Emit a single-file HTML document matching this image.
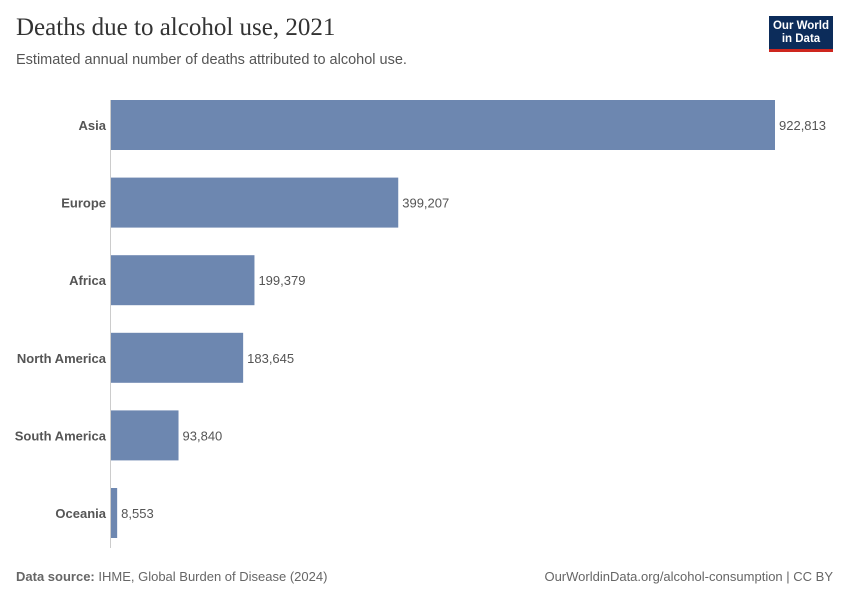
<!DOCTYPE html>
<html><head><meta charset="utf-8"><style>
body{margin:0;width:850px;height:600px;background:#fff;font-family:"Liberation Sans",sans-serif;position:relative;overflow:hidden}
.t{position:absolute;white-space:nowrap}
</style></head><body>
<div class="t" style="left:16px;top:14px;font-family:'Liberation Serif',serif;font-size:25px;color:#333">Deaths due to alcohol use, 2021</div>
<div class="t" style="left:16px;top:52px;font-size:14.5px;color:#555">Estimated annual number of deaths attributed to alcohol use.</div>
<div style="position:absolute;left:769px;top:16px;width:64px;height:36px;background:#0c2c5a;border-bottom:3px solid #ce261e;color:#fff;font-size:11.5px;font-weight:bold;line-height:13px;text-align:center;padding-top:4px;box-sizing:border-box">Our World<br>in Data</div>
<svg id="c" width="850" height="600" style="position:absolute;left:0;top:0"></svg>
<div class="t" style="left:16px;top:569px;font-size:13px;color:#666"><b>Data source:</b> IHME, Global Burden of Disease (2024)</div>
<div class="t" style="right:17px;top:569px;font-size:13px;color:#666">OurWorldinData.org/alcohol-consumption | CC BY</div>
<script>
const categories=["Asia","Europe","Africa","North America","South America","Oceania"];
const values=[922813,399207,199379,183645,93840,8553];
const labels=["922,813","399,207","199,379","183,645","93,840","8,553"];
const svg=document.getElementById('c');const NS='http://www.w3.org/2000/svg';
const x0=111,xs=v=>v*(664/922813),y0=100,pitch=77.6,bh=50;
const ax=document.createElementNS(NS,'line');


ax.setAttribute('x1',110.5);ax.setAttribute('x2',110.5);ax.setAttribute('y1',y0);ax.setAttribute('y2',548);ax.setAttribute('stroke','#ccc');svg.appendChild(ax);
categories.forEach((c,i)=>{const y=y0+i*pitch;
const r=document.createElementNS(NS,'rect');


r.setAttribute('x',x0);r.setAttribute('y',y);r.setAttribute('width',Math.max(xs(values[i]),1));r.setAttribute('height',bh);r.setAttribute('fill','#6d87b0');svg.appendChild(r);
const t=document.createElementNS(NS,'text');


t.setAttribute('x',106);t.setAttribute('y',y+bh/2+5);t.setAttribute('text-anchor','end');t.setAttribute('font-size','13');t.setAttribute('font-weight','bold');t.setAttribute('fill','#555');t.textContent=c;svg.appendChild(t);
const v=document.createElementNS(NS,'text');


v.setAttribute('x',x0+Math.max(xs(values[i]),1)+4);v.setAttribute('y',y+bh/2+5);v.setAttribute('font-size','13');v.setAttribute('fill','#555');v.textContent=labels[i];svg.appendChild(v);
});
</script>
</body></html>
